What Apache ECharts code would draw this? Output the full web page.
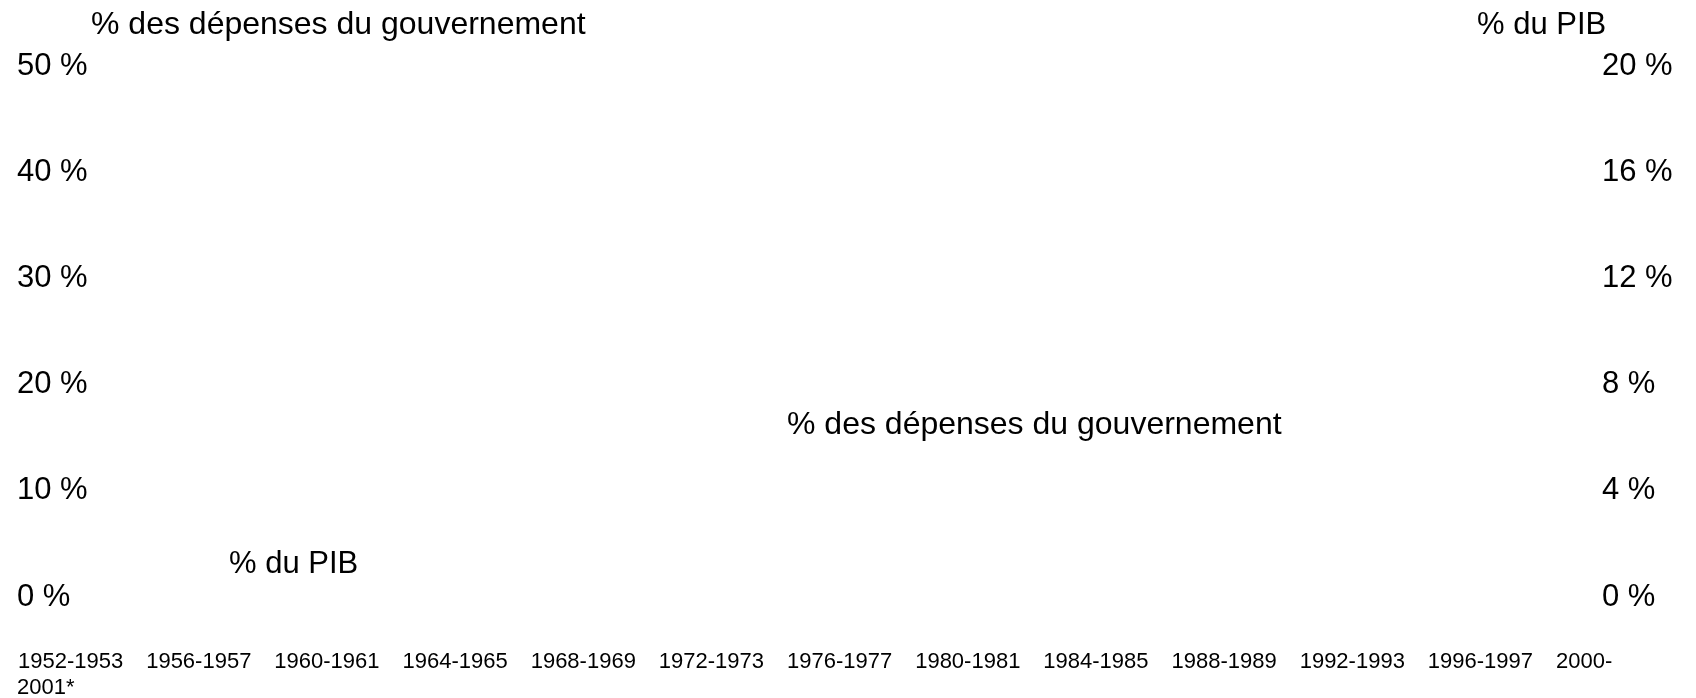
<!DOCTYPE html>
<html>
<head>
<meta charset="utf-8">
<script src="https://cdn.jsdelivr.net/npm/echarts@6/dist/echarts.min.js"></script>
<style>
html,body{margin:0;padding:0;background:#ffffff;}
#chart{width:1696px;height:698px;}
</style>
</head>
<body>
<div id="chart"></div>
<script>
// ---- Data ----
const periods = [
  "1952-1953","1953-1954","1954-1955","1955-1956","1956-1957","1957-1958","1958-1959","1959-1960",
  "1960-1961","1961-1962","1962-1963","1963-1964","1964-1965","1965-1966","1966-1967","1967-1968",
  "1968-1969","1969-1970","1970-1971","1971-1972","1972-1973","1973-1974","1974-1975","1975-1976",
  "1976-1977","1977-1978","1978-1979","1979-1980","1980-1981","1981-1982","1982-1983","1983-1984",
  "1984-1985","1985-1986","1986-1987","1987-1988","1988-1989","1989-1990","1990-1991","1991-1992",
  "1992-1993","1993-1994","1994-1995","1995-1996","1996-1997","1997-1998","1998-1999","1999-2000",
  "2000-2001*"
];
// The reference shows no visible line marks, so no values can be read for the two series.
const depensesGouvernement = [];
const partDuPIB = [];
const leftAxisTitle = "% des dépenses du gouvernement";
const rightAxisTitle = "% du PIB";
const seriesNames = ["% des dépenses du gouvernement", "% du PIB"];
const leftAxisRange = { min: 0, max: 50, interval: 10 };
const rightAxisRange = { min: 0, max: 20, interval: 4 };

const FONT = '"Liberation Sans", Arial, Helvetica, sans-serif';
const TITLE = 32;
const BIG = 31;
const SMALL = 22;

const chart = echarts.init(document.getElementById('chart'), null, { renderer: 'canvas' });

const hidden = { show: false };
const option = {
  backgroundColor: '#ffffff',
  animation: false,
  grid: { left: 18, right: 140, top: 66, bottom: 101, containLabel: false },
  xAxis: {
    type: 'category',
    data: periods,
    boundaryGap: false,
    axisLine: hidden, axisTick: hidden, splitLine: hidden,
    axisLabel: {
      interval: 3,
      align: 'left',
      margin: 54,
      color: '#000',
      fontFamily: FONT,
      fontSize: SMALL,
      formatter: function (v) { return v.endsWith('*') ? v.split('-')[0] + '-' : v; }
    }
  },
  yAxis: [
    {
      type: 'value', position: 'left',
      min: leftAxisRange.min, max: leftAxisRange.max, interval: leftAxisRange.interval,
      axisLine: hidden, axisTick: hidden, splitLine: hidden,
      axisLabel: { align: 'left', margin: 1, color: '#000', fontFamily: FONT, fontSize: BIG,
        formatter: function (v) { return v + ' %'; } }
    },
    {
      type: 'value', position: 'right',
      min: rightAxisRange.min, max: rightAxisRange.max, interval: rightAxisRange.interval,
      axisLine: hidden, axisTick: hidden, splitLine: hidden,
      axisLabel: { align: 'left', margin: 46, color: '#000', fontFamily: FONT, fontSize: BIG,
        formatter: function (v) { return v + ' %'; } }
    }
  ],
  series: [
    { name: seriesNames[0], type: 'line', yAxisIndex: 0, data: depensesGouvernement, showSymbol: false,
      lineStyle: { color: '#000' } },
    { name: seriesNames[1], type: 'line', yAxisIndex: 1, data: partDuPIB, showSymbol: false,
      lineStyle: { color: '#000' } }
  ],
  graphic: [
    { type: 'text', x: 91, y: 25, style: { text: leftAxisTitle, fill: '#000', font: TITLE + 'px ' + FONT, align: 'left', verticalAlign: 'middle' } },
    { type: 'text', x: 1477, y: 25, style: { text: rightAxisTitle, fill: '#000', font: BIG + 'px ' + FONT, align: 'left', verticalAlign: 'middle' } },
    { type: 'text', x: 787, y: 425, style: { text: seriesNames[0], fill: '#000', font: TITLE + 'px ' + FONT, align: 'left', verticalAlign: 'middle' } },
    { type: 'text', x: 229, y: 564, style: { text: seriesNames[1], fill: '#000', font: BIG + 'px ' + FONT, align: 'left', verticalAlign: 'middle' } },
    { type: 'text', x: 17, y: 688, style: { text: periods[periods.length - 1].split('-')[1], fill: '#000', font: SMALL + 'px ' + FONT, align: 'left', verticalAlign: 'middle' } }
  ]
};
chart.setOption(option);
</script>
</body>
</html>
